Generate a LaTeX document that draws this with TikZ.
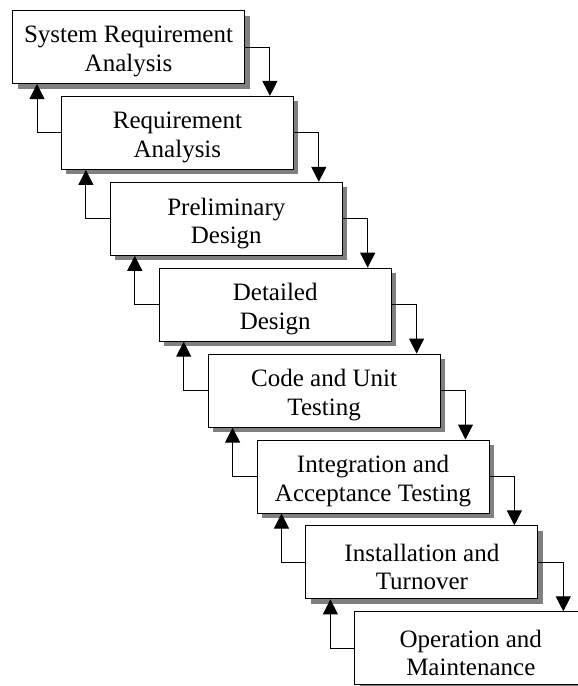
\documentclass[tikz,border=0pt]{standalone}
\usepackage{fontspec}
\setmainfont{Liberation Serif}
\usetikzlibrary{arrows.meta,shadows}
\begin{document}
\begin{tikzpicture}[x=1pt,y=-1pt,
  stepbox/.style={draw=black, line width=1pt, fill=white,
    minimum width=232pt, minimum height=73pt, inner sep=0pt,
    anchor=north west,
    drop shadow={shadow xshift=5pt, shadow yshift=-5pt,
      fill=black!50, opacity=1, draw=none}},
  steptext/.style={inner sep=0pt, align=center,
    font=\fontsize{25}{28.5}\selectfont},
  flow/.style={draw=black, line width=1pt,
    -{Triangle[width=15pt,length=15pt]}}]
\useasboundingbox (0,0) rectangle (578,686);
\clip (0,0) rectangle (578,686);

% the eight phases, stepping down to the right
\node[stepbox] (s1) at (12,10)       {};
\node[stepbox] (s2) at (60.9,95.9)   {};
\node[stepbox] (s3) at (109.8,181.8) {};
\node[stepbox] (s4) at (158.7,267.7) {};
\node[stepbox] (s5) at (207.6,353.6) {};
\node[stepbox] (s6) at (256.5,439.5) {};
\node[stepbox] (s7) at (305.4,525.4) {};
\node[stepbox] (s8) at (354.3,611.3) {};

% phase names, set a little below each box centre
\node[steptext] (t1) at ([yshift=-4.5pt]s1.center) {System Requirement\\Analysis};
\node[steptext] (t2) at ([yshift=-4.5pt]s2.center) {Requirement\\Analysis};
\node[steptext] (t3) at ([yshift=-4.5pt]s3.center) {Preliminary\\Design};
\node[steptext] (t4) at ([yshift=-4.5pt]s4.center) {Detailed\\Design};
\node[steptext] (t5) at ([yshift=-4.5pt]s5.center) {Code and Unit\\Testing};
\node[steptext] (t6) at ([yshift=-4.5pt]s6.center) {Integration and\\Acceptance Testing};
\node[steptext] (t7) at ([yshift=-4.5pt]s7.center) {Installation and\\Turnover};
\node[steptext] (t8) at ([yshift=-4.5pt]s8.center) {Operation and\\Maintenance};

% forward flow on the right, feedback on the left
\foreach \a/\b in {s1/s2,s2/s3,s3/s4,s4/s5,s5/s6,s6/s7,s7/s8}{
  \draw[flow] (\a.east) -| ([xshift=-24pt]\b.north east);
  \draw[flow] (\b.west) -| ([xshift=25pt]\a.south west);
}
\end{tikzpicture}
\end{document}
